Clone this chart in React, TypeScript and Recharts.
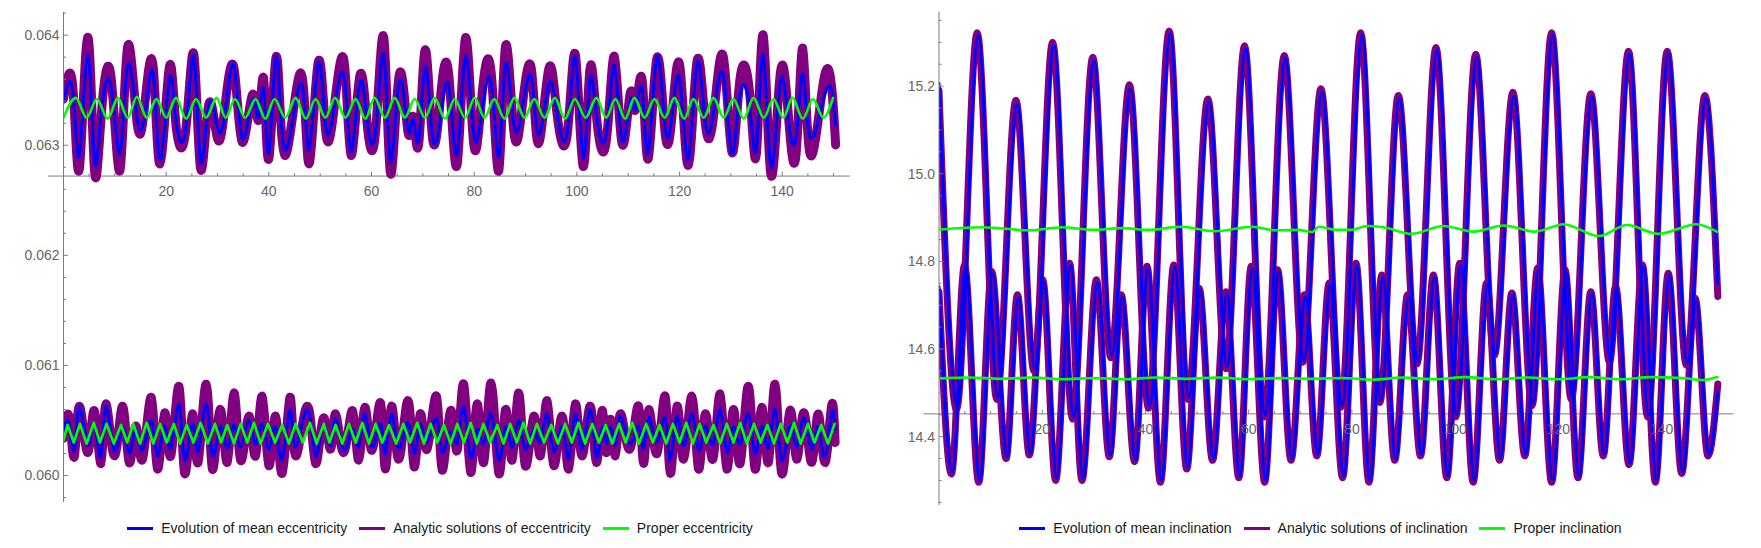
import React from "react";
import { LineChart, Line, XAxis, YAxis, ReferenceLine, ReferenceDot, Legend } from "recharts";

const FONT = '"Liberation Sans", Arial, Helvetica, sans-serif';
const AXIS = "#7d7d7d";
const TEXT = "#666666";
const BLUE = "#0000ff";
const PURPLE = "#800080";
const GREEN = "#00ff00";

type Pt = [number, number];
type Curve = "monotone" | "natural" | "linear";

// ---------- eccentricity (left panel) ----------
const eccUpperMean: Pt[] = [
  [0, 0.0634], [1.8, 0.063486], [3.1, 0.062912], [4.7, 0.063819], [6.0, 0.062882], [7.3, 0.063259], [9.2, 0.063547],
  [11.0, 0.062927], [12.5, 0.063728], [14.4, 0.063229], [16.0, 0.063335], [17.5, 0.063637], [18.8, 0.062867],
  [20.6, 0.063592], [21.9, 0.063229], [23.8, 0.063154], [25.4, 0.06381], [26.7, 0.062851], [28.3, 0.063365],
  [30.0, 0.063154], [31.5, 0.063305], [33.2, 0.063728], [34.8, 0.063063], [36.8, 0.063411], [38.0, 0.06325],
  [39.0, 0.0635], [40.0, 0.062942], [41.5, 0.06381], [43.1, 0.062957], [46.2, 0.063562], [47.8, 0.062957],
  [49.6, 0.063743], [51.0, 0.063199], [52.5, 0.063275], [54.6, 0.063637], [56.0, 0.062942], [57.7, 0.063562],
  [59.2, 0.063199], [60.8, 0.063139], [62.4, 0.063819], [63.7, 0.062851], [65.4, 0.063577], [67.1, 0.063139],
  [68.1, 0.06324], [69.2, 0.063048], [70.5, 0.063713], [72.0, 0.063048], [73.7, 0.06335], [75.2, 0.063486],
  [76.7, 0.062927], [78.3, 0.063803], [79.9, 0.063109], [81.5, 0.063305], [83.3, 0.063562], [84.8, 0.062897],
  [86.1, 0.063728], [87.7, 0.063199], [89.3, 0.06332], [91.1, 0.063622], [92.5, 0.063093], [94.5, 0.063547],
  [96.1, 0.063305], [98.1, 0.063109], [99.7, 0.063803], [101.2, 0.06289], [102.5, 0.063577], [103.8, 0.063275],
  [105.7, 0.063093], [107.3, 0.063728], [108.8, 0.063048], [110.4, 0.063411], [111.4, 0.06332], [112.7, 0.063501],
  [113.9, 0.062927], [115.6, 0.063803], [117.2, 0.063154], [118.6, 0.0633], [120.1, 0.063577], [121.7, 0.062867],
  [123.4, 0.063743], [125.0, 0.063214], [126.6, 0.06329], [128.5, 0.063637], [130.2, 0.062927], [131.8, 0.063471],
  [133.7, 0.06332], [135.0, 0.062988], [136.3, 0.063819], [137.8, 0.062806], [139.6, 0.063562], [141.2, 0.063229],
  [142.7, 0.063078], [144.0, 0.06365], [145.4, 0.063078], [148.0, 0.063411], [149.6, 0.063501], [150.4, 0.063184],
];

const eccUpperAnalytic: Pt[] = [
  [0, 0.06342], [1.8, 0.063537], [3.1, 0.06279], [4.7, 0.06398], [6.0, 0.0628], [7.3, 0.063236], [9.2, 0.06364],
  [11.0, 0.062772], [12.5, 0.063898], [14.4, 0.06318], [16.0, 0.063445], [17.5, 0.0637], [18.8, 0.06283],
  [20.6, 0.063703], [21.9, 0.06319], [23.8, 0.063134], [25.4, 0.063823], [26.7, 0.062787], [28.3, 0.06337],
  [30.0, 0.063059], [31.5, 0.06337], [33.2, 0.063703], [34.8, 0.063028], [36.8, 0.06346], [38.0, 0.06323],
  [39.0, 0.063597], [40.0, 0.062878], [41.5, 0.063808], [43.1, 0.062908], [46.2, 0.063657], [47.8, 0.062832],
  [49.6, 0.063748], [51.0, 0.063164], [52.5, 0.063254], [54.6, 0.063778], [56.0, 0.062908], [57.7, 0.063626],
  [59.2, 0.06317], [60.8, 0.063134], [62.4, 0.063975], [63.7, 0.062742], [65.4, 0.063642], [67.1, 0.063119],
  [68.1, 0.06326], [69.2, 0.063014], [70.5, 0.063868], [72.0, 0.063028], [73.7, 0.06356], [75.2, 0.06356],
  [76.7, 0.062832], [78.3, 0.063975], [79.9, 0.063014], [81.5, 0.06345], [83.3, 0.06366], [84.8, 0.062772],
  [86.1, 0.063898], [87.7, 0.063134], [89.3, 0.06333], [91.1, 0.063703], [92.5, 0.063014], [94.5, 0.063688],
  [96.1, 0.0633], [98.1, 0.063089], [99.7, 0.063823], [101.2, 0.06281], [102.5, 0.063672], [103.8, 0.06327],
  [105.7, 0.063028], [107.3, 0.063808], [108.8, 0.063014], [110.4, 0.063476], [111.4, 0.06332], [112.7, 0.063597],
  [113.9, 0.062878], [115.6, 0.063793], [117.2, 0.063104], [118.6, 0.0633], [120.1, 0.063703], [121.7, 0.062817],
  [123.4, 0.063763], [125.0, 0.063209], [126.6, 0.063254], [128.5, 0.063808], [130.2, 0.062937], [131.8, 0.063612],
  [133.7, 0.06345], [135.0, 0.062937], [136.3, 0.064], [137.8, 0.062733], [139.6, 0.063642], [141.2, 0.06327],
  [142.7, 0.062923], [144.0, 0.063883], [145.4, 0.062923], [148.0, 0.063567], [149.6, 0.06354], [150.4, 0.063003],
];

const eccUpperProper: Pt[] = [
  [0, 0.06325], [2.4, 0.06343], [4.5, 0.06325], [6.5, 0.06342], [8.6, 0.06324], [10.6, 0.06343], [12.5, 0.06325],
  [14.3, 0.06344], [16.2, 0.06325], [18.1, 0.06342], [20.0, 0.06325], [21.9, 0.06343], [23.9, 0.06324], [25.8, 0.06342],
  [27.8, 0.06325], [29.8, 0.06343], [31.6, 0.06325], [33.4, 0.06342], [35.4, 0.06325], [37.4, 0.06342], [39.3, 0.06324],
  [41.1, 0.06342], [43.2, 0.06325], [45.2, 0.06343], [47.2, 0.06324], [49.1, 0.06342], [51.0, 0.06325], [52.9, 0.06343],
  [54.9, 0.06325], [56.9, 0.06342], [58.8, 0.06324], [60.6, 0.06343], [62.6, 0.06325], [64.5, 0.06343], [66.5, 0.06325],
  [68.4, 0.06342], [70.4, 0.06325], [72.3, 0.06343], [74.3, 0.06324], [76.2, 0.06342], [78.2, 0.06325], [80.1, 0.06343],
  [82.0, 0.06325], [83.9, 0.06342], [85.9, 0.06324], [87.8, 0.06343], [89.8, 0.06325], [91.7, 0.06342], [93.7, 0.06325],
  [95.7, 0.06343], [97.7, 0.06324], [99.6, 0.06342], [101.7, 0.06325], [103.8, 0.06343], [105.7, 0.06325], [107.5, 0.06342],
  [109.4, 0.06324], [111.2, 0.06343], [113.2, 0.06325], [115.1, 0.06342], [117.1, 0.06325], [119.0, 0.06343], [120.9, 0.06324],
  [122.7, 0.06342], [124.7, 0.06325], [126.6, 0.06343], [128.6, 0.06325], [130.5, 0.06342], [132.5, 0.06324], [134.4, 0.06343],
  [136.4, 0.06325], [138.3, 0.06342], [140.2, 0.06325], [142.0, 0.06343], [144.0, 0.06324], [146.0, 0.06342], [148.0, 0.06325],
  [149.9, 0.06343],
];

const eccLowerMean: Pt[] = [
  [0, 0.06041], [1.1, 0.06047], [2.1, 0.06023], [3.1, 0.06062], [4.7, 0.06028], [6.0, 0.06047], [7.3, 0.06017],
  [8.25, 0.06063], [9.9, 0.06023], [11.5, 0.06044], [12.8, 0.0602], [14.1, 0.06042], [15.4, 0.06023], [17.1, 0.0605],
  [18.3, 0.06018], [19.7, 0.06045], [20.9, 0.06025], [22.5, 0.06064], [23.6, 0.06014], [25.1, 0.06047], [26.2, 0.06022],
  [27.8, 0.06065], [29.0, 0.06018], [30.5, 0.06044], [31.9, 0.06025], [33.2, 0.06046], [34.5, 0.06026], [36.1, 0.0605],
  [37.4, 0.06028], [38.7, 0.06047], [40.0, 0.06024], [41.3, 0.06044], [42.6, 0.06015], [44.1, 0.0606], [45.2, 0.06026],
  [47.5, 0.0606], [49.1, 0.06018], [50.6, 0.06046], [52.0, 0.06027], [53.0, 0.06052], [54.6, 0.06023], [56.3, 0.06042],
  [57.5, 0.06026], [58.7, 0.06056], [60.1, 0.06026], [61.75, 0.06047], [62.7, 0.0602], [63.9, 0.06056], [65.3, 0.06024],
  [67.1, 0.06048], [68.3, 0.0602], [69.5, 0.06046], [70.8, 0.0603], [72.65, 0.06052], [73.75, 0.06021], [75.4, 0.0604],
  [76.7, 0.0603], [77.96, 0.06062], [79.3, 0.06016], [80.56, 0.06042], [81.86, 0.06029], [83.3, 0.06056], [84.8, 0.06014],
  [86.1, 0.06044], [87.4, 0.06026], [88.66, 0.0605], [89.96, 0.06024], [91.6, 0.06042], [92.9, 0.0603], [94.2, 0.06056],
  [95.5, 0.06022], [97.1, 0.06044], [98.4, 0.06016], [99.7, 0.06056], [101.0, 0.06024], [102.6, 0.0606], [103.8, 0.06017],
  [104.9, 0.06043], [105.7, 0.06029], [106.6, 0.06044], [107.5, 0.06028], [108.5, 0.06054], [110.3, 0.06029], [112.0, 0.06045],
  [113.0, 0.06025], [114.0, 0.06053], [115.6, 0.0603], [117.2, 0.06052], [118.2, 0.06014], [119.5, 0.06054], [120.8, 0.06027],
  [122.4, 0.06056], [123.7, 0.06023], [125.0, 0.06045], [126.5, 0.06028], [127.9, 0.0606], [129.2, 0.06022], [130.5, 0.06044],
  [131.8, 0.06029], [133.4, 0.06056], [134.7, 0.0602], [136.0, 0.06045], [137.3, 0.06025], [138.6, 0.0606], [139.9, 0.06014],
  [141.5, 0.06045], [142.8, 0.06026], [144.2, 0.06052], [145.7, 0.06024], [147.0, 0.06044], [148.3, 0.06017], [149.6, 0.06056],
  [150.3, 0.06042],
];

const eccLowerAnalytic: Pt[] = [
  [0, 0.06034], [1.1, 0.06053], [2.1, 0.06017], [3.1, 0.06063], [4.7, 0.06021], [6.0, 0.06059], [7.3, 0.06011],
  [8.25, 0.06065], [9.9, 0.06018], [11.5, 0.06063], [12.8, 0.06012], [14.1, 0.06045], [15.4, 0.06015], [17.1, 0.06071],
  [18.3, 0.06006], [19.7, 0.06057], [20.9, 0.06018], [22.5, 0.06081], [23.6, 0.06002], [25.1, 0.06056], [26.2, 0.06012],
  [27.8, 0.06083], [29.0, 0.06006], [30.5, 0.0606], [31.9, 0.06012], [33.2, 0.06075], [34.5, 0.06014], [36.1, 0.06054],
  [37.4, 0.06018], [38.7, 0.06072], [40.0, 0.06009], [41.3, 0.06054], [42.6, 0.06002], [44.1, 0.06071], [45.2, 0.06018],
  [47.5, 0.06063], [49.1, 0.06011], [50.6, 0.06052], [52.0, 0.06024], [53.0, 0.06056], [54.6, 0.06021], [56.3, 0.06059],
  [57.5, 0.06014], [58.7, 0.06062], [60.1, 0.06023], [61.75, 0.06066], [62.7, 0.06006], [63.9, 0.06063], [65.3, 0.06015],
  [67.1, 0.06068], [68.3, 0.06008], [69.5, 0.06056], [70.8, 0.06024], [72.65, 0.06072], [73.75, 0.06005], [75.4, 0.06059],
  [76.7, 0.06023], [77.96, 0.06083], [79.3, 0.06003], [80.56, 0.06065], [81.86, 0.06012], [83.3, 0.06084], [84.8, 0.06002],
  [86.1, 0.0606], [87.4, 0.06014], [88.66, 0.06075], [89.96, 0.06009], [91.6, 0.06054], [92.9, 0.06018], [94.2, 0.06068],
  [95.5, 0.06009], [97.1, 0.06054], [98.4, 0.06006], [99.7, 0.06065], [101.0, 0.06018], [102.6, 0.06063], [103.8, 0.06012],
  [104.9, 0.06059], [105.7, 0.06021], [106.6, 0.06051], [107.5, 0.06018], [108.5, 0.06056], [110.3, 0.06024], [112.0, 0.06063],
  [113.0, 0.06011], [114.0, 0.0606], [115.6, 0.0602], [117.2, 0.06072], [118.2, 0.06002], [119.5, 0.06063], [120.8, 0.06015],
  [122.4, 0.06072], [123.7, 0.06006], [125.0, 0.06056], [126.5, 0.06015], [127.9, 0.06074], [129.2, 0.06006], [130.5, 0.0606],
  [131.8, 0.06011], [133.4, 0.06081], [134.7, 0.06006], [136.0, 0.06062], [137.3, 0.06012], [138.6, 0.06083], [139.9, 0.06002],
  [141.5, 0.06059], [142.8, 0.06015], [144.2, 0.06057], [145.7, 0.06012], [147.0, 0.06056], [148.3, 0.06012], [149.6, 0.06063],
  [150.3, 0.0603],
];

const eccLowerProper: Pt[] = [
  [0, 0.06032], [0.8, 0.06046], [2.0, 0.0603], [3.2, 0.06047], [4.5, 0.06029], [5.9, 0.06048], [7.1, 0.0603], [8.4, 0.06047],
  [9.8, 0.06029], [11.2, 0.06046], [12.4, 0.0603], [13.6, 0.06047], [14.9, 0.06029], [16.2, 0.06048], [17.5, 0.06029],
  [18.8, 0.06047], [20.1, 0.0603], [21.5, 0.06047], [22.7, 0.06029], [24.0, 0.06046], [25.3, 0.0603], [26.7, 0.06048],
  [28.1, 0.06029], [29.5, 0.06047], [30.7, 0.0603], [31.9, 0.06046], [33.2, 0.06029], [34.5, 0.06047], [35.8, 0.0603],
  [37.1, 0.06048], [38.4, 0.06029], [39.8, 0.06047], [41.2, 0.0603], [42.6, 0.06046], [43.9, 0.06029], [45.2, 0.06047],
  [46.6, 0.0603], [48.0, 0.06048], [49.3, 0.06029], [50.7, 0.06047], [51.8, 0.0603], [53.0, 0.06046], [54.3, 0.06029],
  [55.6, 0.06047], [56.9, 0.0603], [58.2, 0.06048], [59.5, 0.06029], [60.8, 0.06047], [62.1, 0.0603], [63.4, 0.06046],
  [64.8, 0.06029], [66.2, 0.06047], [67.5, 0.0603], [68.9, 0.06048], [70.2, 0.06029], [71.5, 0.06047], [72.8, 0.0603],
  [74.1, 0.06046], [75.4, 0.06029], [76.7, 0.06047], [78.0, 0.0603], [79.3, 0.06048], [80.5, 0.06029], [81.8, 0.06047],
  [83.1, 0.0603], [84.5, 0.06046], [85.7, 0.06029], [87.0, 0.06047], [88.3, 0.0603], [89.6, 0.06048], [90.9, 0.06029],
  [92.2, 0.06047], [93.6, 0.0603], [95.0, 0.06046], [96.3, 0.06029], [97.7, 0.06047], [99.0, 0.0603], [100.3, 0.06048],
  [101.6, 0.06029], [103.0, 0.06047], [104.3, 0.0603], [105.6, 0.06046], [106.9, 0.06029], [108.2, 0.06047], [109.5, 0.0603],
  [110.8, 0.06048], [112.1, 0.06029], [113.5, 0.06047], [114.8, 0.0603], [116.1, 0.06046], [117.4, 0.06029], [118.7, 0.06047],
  [120.0, 0.0603], [121.3, 0.06048], [122.6, 0.06029], [123.9, 0.06047], [125.2, 0.0603], [126.6, 0.06046], [127.9, 0.06029],
  [129.2, 0.06047], [130.5, 0.0603], [131.8, 0.06048], [133.1, 0.06029], [134.5, 0.06047], [135.8, 0.0603], [137.1, 0.06046],
  [138.4, 0.06029], [139.7, 0.06047], [141.0, 0.0603], [142.3, 0.06048], [143.6, 0.06029], [145.0, 0.06047], [146.3, 0.0603],
  [147.6, 0.06046], [148.9, 0.06029], [150.2, 0.06047],
];

const eccYTicks = [
  0.0598, 0.06, 0.0602, 0.0604, 0.0606, 0.0608, 0.061, 0.0612, 0.0614, 0.0616, 0.0618, 0.062,
  0.0622, 0.0624, 0.0626, 0.0628, 0.063, 0.0632, 0.0634, 0.0636, 0.0638, 0.064, 0.0642,
];
const eccAxisCross = 0.06272;
const eccLegend = ["Evolution of mean eccentricity", "Analytic solutions of eccentricity", "Proper eccentricity"];

// ---------- inclination (right panel) ----------
const incUpperMean: Pt[] = [
  [0, 15.206], [3.6, 14.468], [7.6, 15.316], [11.4, 14.49], [15.15, 15.16], [18.6, 14.555], [22.25, 15.294],
  [26.1, 14.446], [30.0, 15.259], [33.5, 14.586], [37.1, 15.195], [40.8, 14.47], [44.8, 15.32], [48.4, 14.49],
  [52.3, 15.164], [55.8, 14.56], [59.4, 15.286], [63.2, 14.45], [67.1, 15.263], [70.7, 14.575], [74.2, 15.187],
  [78.1, 14.472], [81.95, 15.316], [85.6, 14.483], [89.2, 15.172], [92.8, 14.571], [96.5, 15.282], [100.3, 14.45],
  [104.2, 15.267], [107.8, 14.59], [111.4, 15.179], [115.1, 14.476], [118.9, 15.316], [122.7, 14.49], [126.5, 15.176],
  [130.1, 14.575], [133.8, 15.274], [137.5, 14.45], [141.3, 15.274], [145.0, 14.568], [148.6, 15.172], [150.9, 14.75],
];

const incUpperAnalytic: Pt[] = [
  [0, 15.19], [3.4, 14.462], [7.4, 15.322], [11.2, 14.485], [14.9, 15.168], [18.4, 14.55], [22.0, 15.3],
  [25.9, 14.44], [29.8, 15.266], [33.3, 14.58], [36.9, 15.203], [40.6, 14.465], [44.6, 15.326], [48.2, 14.485],
  [52.1, 15.171], [55.6, 14.555], [59.2, 15.292], [63.0, 14.445], [66.9, 15.27], [70.5, 14.57], [74.0, 15.194],
  [77.9, 14.467], [81.7, 15.322], [85.4, 14.478], [89.0, 15.179], [92.6, 14.566], [96.3, 15.288], [100.1, 14.445],
  [104.0, 15.273], [107.6, 14.585], [111.2, 15.186], [114.9, 14.471], [118.7, 15.322], [122.5, 14.485], [126.3, 15.183],
  [129.9, 14.57], [133.6, 15.28], [137.3, 14.445], [141.1, 15.28], [144.8, 14.563], [148.4, 15.179], [150.9, 14.72],
];

const incLowerMean: Pt[] = [
  [0, 14.742], [2.6, 14.32], [5.15, 14.787], [7.9, 14.3], [10.4, 14.772], [13.2, 14.354], [15.4, 14.719],
  [17.7, 14.362], [20.3, 14.753], [22.8, 14.305], [25.5, 14.791], [27.9, 14.305], [30.7, 14.753], [33.2, 14.358],
  [35.5, 14.719], [38.1, 14.347], [40.5, 14.784], [43.1, 14.3], [45.7, 14.787], [48.2, 14.33], [50.6, 14.734],
  [53.2, 14.35], [55.8, 14.726], [58.3, 14.31], [60.7, 14.784], [63.3, 14.3], [65.8, 14.776], [68.4, 14.35],
  [71.0, 14.719], [73.4, 14.36], [75.8, 14.746], [78.4, 14.31], [81.0, 14.791], [83.5, 14.3], [86.0, 14.764],
  [88.5, 14.35], [91.0, 14.719], [93.5, 14.36], [96.0, 14.764], [98.6, 14.31], [101.1, 14.791], [103.7, 14.3],
  [106.3, 14.746], [108.8, 14.35], [111.2, 14.723], [113.7, 14.36], [116.2, 14.78], [118.9, 14.3], [121.5, 14.776],
  [124.0, 14.31], [126.5, 14.726], [128.9, 14.36], [131.3, 14.738], [133.9, 14.34], [136.5, 14.787], [139.0, 14.3],
  [141.5, 14.768], [144.1, 14.32], [146.7, 14.711], [149.2, 14.36], [150.9, 14.5],
];

const incLowerAnalytic: Pt[] = [
  [0, 14.73], [2.4, 14.315], [4.95, 14.792], [7.7, 14.296], [10.2, 14.777], [13.0, 14.35], [15.2, 14.724],
  [17.5, 14.358], [20.1, 14.758], [22.6, 14.3], [25.3, 14.796], [27.7, 14.3], [30.5, 14.758], [33.0, 14.354],
  [35.3, 14.724], [37.9, 14.343], [40.3, 14.789], [42.9, 14.296], [45.5, 14.792], [48.0, 14.326], [50.4, 14.739],
  [53.0, 14.346], [55.6, 14.731], [58.1, 14.306], [60.5, 14.789], [63.1, 14.296], [65.6, 14.781], [68.2, 14.346],
  [70.8, 14.724], [73.2, 14.356], [75.6, 14.751], [78.2, 14.306], [80.8, 14.796], [83.3, 14.296], [85.8, 14.769],
  [88.3, 14.346], [90.8, 14.724], [93.3, 14.356], [95.8, 14.769], [98.4, 14.306], [100.9, 14.796], [103.5, 14.296],
  [106.1, 14.751], [108.6, 14.346], [111.0, 14.728], [113.5, 14.356], [116.0, 14.785], [118.7, 14.296], [121.3, 14.781],
  [123.8, 14.306], [126.3, 14.731], [128.7, 14.356], [131.1, 14.743], [133.7, 14.336], [136.3, 14.792], [138.8, 14.296],
  [141.3, 14.773], [143.9, 14.316], [146.5, 14.716], [149.0, 14.356], [150.9, 14.52],
];

const incUpperProper: Pt[] = [
  [0.3, 14.873], [8.4, 14.878], [17.4, 14.871], [23.9, 14.878], [29.7, 14.872], [35.5, 14.876], [40.6, 14.872],
  [46.8, 14.879], [53.5, 14.869], [60.7, 14.879], [65.2, 14.871], [69.7, 14.872], [72.3, 14.867], [73.6, 14.879],
  [76.8, 14.872], [79.7, 14.872], [83.0, 14.881], [86.1, 14.878], [91.6, 14.863], [97.7, 14.881], [103.6, 14.868],
  [109.4, 14.882], [115.5, 14.868], [121.0, 14.885], [127.8, 14.858], [133.3, 14.883], [139.4, 14.863], [146.8, 14.885],
  [150.7, 14.868],
];

const incLowerProper: Pt[] = [
  [0, 14.533], [6, 14.535], [12, 14.532], [18, 14.535], [24, 14.531], [30, 14.534], [36, 14.531], [42, 14.535],
  [48, 14.532], [54, 14.535], [60, 14.531], [66, 14.534], [72, 14.532], [78, 14.534], [84, 14.53], [90, 14.535],
  [96, 14.531], [102, 14.536], [108, 14.531], [114, 14.535], [120, 14.531], [126, 14.536], [132, 14.531], [138, 14.536],
  [144, 14.534], [148, 14.529], [150.8, 14.536],
];

const incYTicks = [
  14.25, 14.3, 14.35, 14.4, 14.45, 14.5, 14.55, 14.6, 14.65, 14.7, 14.75, 14.8, 14.85, 14.9,
  14.95, 15.0, 15.05, 15.1, 15.15, 15.2, 15.25, 15.3, 15.35,
];
const incAxisCross = 14.452;
const incLegend = ["Evolution of mean inclination", "Analytic solutions of inclination", "Proper inclination"];

// shared
const xMinorTicks = [5, 10, 15, 25, 30, 35, 45, 50, 55, 65, 70, 75, 85, 90, 95, 105, 110, 115, 125, 130, 135, 145, 150];
const xMajorTicks = [20, 40, 60, 80, 100, 120, 140];
const legendColors = [BLUE, PURPLE, GREEN];

const toRows = (pts: Pt[]) => pts.map(([t, v]) => ({ t, v }));

function YTick(props: any) {
  const { x, y, payload, step, digits } = props;
  const v = payload.value as number;
  const major = Math.abs(v / step - Math.round(v / step)) < 1e-6;
  return (
    <g>
      <line x1={x} x2={x + (major ? 4.5 : 2.5)} y1={y} y2={y} stroke={AXIS} strokeWidth={1} />
      {major && (
        <text x={x - 4} y={y} dy="0.35em" textAnchor="end" fill={TEXT} fontSize={14} fontFamily={FONT}>
          {v.toFixed(digits)}
        </text>
      )}
    </g>
  );
}

function LegendRow({ labels }: { labels: string[] }) {
  return (
    <div
      style={{
        display: "flex",
        justifyContent: "center",
        alignItems: "center",
        fontFamily: FONT,
        fontSize: 14,
        lineHeight: "16px",
        color: "#1a1a1a",
        whiteSpace: "nowrap",
      }}
    >
      {labels.map((l, i) => (
        <div key={l} style={{ display: "flex", alignItems: "center", marginLeft: i ? 12 : 0 }}>
          <div style={{ width: 26, height: 3, background: legendColors[i], marginRight: 8 }} />
          <span>{l}</span>
        </div>
      ))}
    </div>
  );
}

function Panel(props: {
  width: number;
  margin: { top: number; right: number; bottom: number; left: number };
  xMax: number;
  yDomain: [number, number];
  yTicks: number[];
  step: number;
  digits: number;
  cross: number;
  tickLen: [number, number];
  purpleWidth: number;
  curve: Curve;
  upperMean: Pt[];
  upperAnalytic: Pt[];
  upperProper: Pt[];
  lowerMean: Pt[];
  lowerAnalytic: Pt[];
  lowerProper: Pt[];
  lowerProperType: Curve;
  legend: string[];
}) {
  const p = props;
  const lineCommon = {
    dataKey: "v",
    dot: false,
    activeDot: false,
    isAnimationActive: false,
    strokeLinejoin: "round" as const,
    strokeLinecap: "round" as const,
  };
  return (
    <LineChart width={p.width} height={548} margin={p.margin}>
      <XAxis dataKey="t" type="number" domain={[0, p.xMax]} allowDataOverflow hide />
      <YAxis
        type="number"
        domain={p.yDomain}
        allowDataOverflow
        ticks={p.yTicks}
        interval={0}
        width={54}
        tickSize={0}
        tickMargin={0}
        tickLine={false}
        axisLine={{ stroke: AXIS }}
        tick={(tp: any) => <YTick {...tp} step={p.step} digits={p.digits} />}
      />
      <ReferenceLine
        segment={[{ x: -3, y: p.cross }, { x: p.xMax, y: p.cross }]}
        stroke={AXIS}
        strokeWidth={1}
        ifOverflow="visible"
      />
      {xMinorTicks.map((t) => (
        <ReferenceLine
          key={"mi" + t}
          segment={[{ x: t, y: p.cross }, { x: t, y: p.cross + p.tickLen[0] }]}
          stroke={AXIS}
          ifOverflow="visible"
        />
      ))}
      {xMajorTicks.map((t) => (
        <ReferenceLine
          key={"ma" + t}
          segment={[{ x: t, y: p.cross }, { x: t, y: p.cross + p.tickLen[1] }]}
          stroke={AXIS}
          ifOverflow="visible"
        />
      ))}
      {xMajorTicks.map((t) => (
        <ReferenceDot
          key={"lb" + t}
          x={t}
          y={p.cross}
          r={0}
          fill="none"
          stroke="none"
          ifOverflow="visible"
          label={{ value: String(t), position: "bottom", offset: 10, fill: TEXT, fontSize: 14, fontFamily: FONT }}
        />
      ))}
      <Line {...lineCommon} data={toRows(p.upperAnalytic)} type={p.curve} stroke={PURPLE} strokeWidth={p.purpleWidth} />
      <Line {...lineCommon} data={toRows(p.lowerAnalytic)} type={p.curve} stroke={PURPLE} strokeWidth={p.purpleWidth} />
      <Line {...lineCommon} data={toRows(p.upperMean)} type={p.curve} stroke={BLUE} strokeWidth={3} />
      <Line {...lineCommon} data={toRows(p.lowerMean)} type={p.curve} stroke={BLUE} strokeWidth={3} />
      <Line {...lineCommon} data={toRows(p.upperProper)} type="monotone" stroke={GREEN} strokeWidth={2.6} />
      <Line {...lineCommon} data={toRows(p.lowerProper)} type={p.lowerProperType} stroke={GREEN} strokeWidth={2.6} />
      <Legend
        verticalAlign="middle"
        align="center"
        layout="horizontal"
        wrapperStyle={{ top: 520, left: 0, width: p.width, height: 16 }}
        content={() => <LegendRow labels={p.legend} />}
      />
    </LineChart>
  );
}

export default function App() {
  return (
    <div style={{ position: "absolute", left: 0, top: 0, width: 1761, height: 548, background: "#ffffff" }}>
      <div style={{ position: "absolute", left: 0, top: 0 }}>
        <Panel
          width={880}
          margin={{ top: 12, right: 30, bottom: 46, left: 9.5 }}
          xMax={153.2}
          yDomain={[0.05976, 0.06421]}
          yTicks={eccYTicks}
          step={0.001}
          digits={3}
          cross={eccAxisCross}
          tickLen={[0.000025, 0.00004]}
          purpleWidth={9}
          curve="natural"
          upperMean={eccUpperMean}
          upperAnalytic={eccUpperAnalytic}
          upperProper={eccUpperProper}
          lowerMean={eccLowerMean}
          lowerAnalytic={eccLowerAnalytic}
          lowerProper={eccLowerProper}
          lowerProperType="linear"
          legend={eccLegend}
        />
      </div>
      <div style={{ position: "absolute", left: 880, top: 0 }}>
        <Panel
          width={881}
          margin={{ top: 11.7, right: 27.7, bottom: 43, left: 5 }}
          xMax={153.9}
          yDomain={[14.244, 15.37]}
          yTicks={incYTicks}
          step={0.2}
          digits={1}
          cross={incAxisCross}
          tickLen={[0.006, 0.01]}
          purpleWidth={7}
          curve="monotone"
          upperMean={incUpperMean}
          upperAnalytic={incUpperAnalytic}
          upperProper={incUpperProper}
          lowerMean={incLowerMean}
          lowerAnalytic={incLowerAnalytic}
          lowerProper={incLowerProper}
          lowerProperType="monotone"
          legend={incLegend}
        />
      </div>
    </div>
  );
}
